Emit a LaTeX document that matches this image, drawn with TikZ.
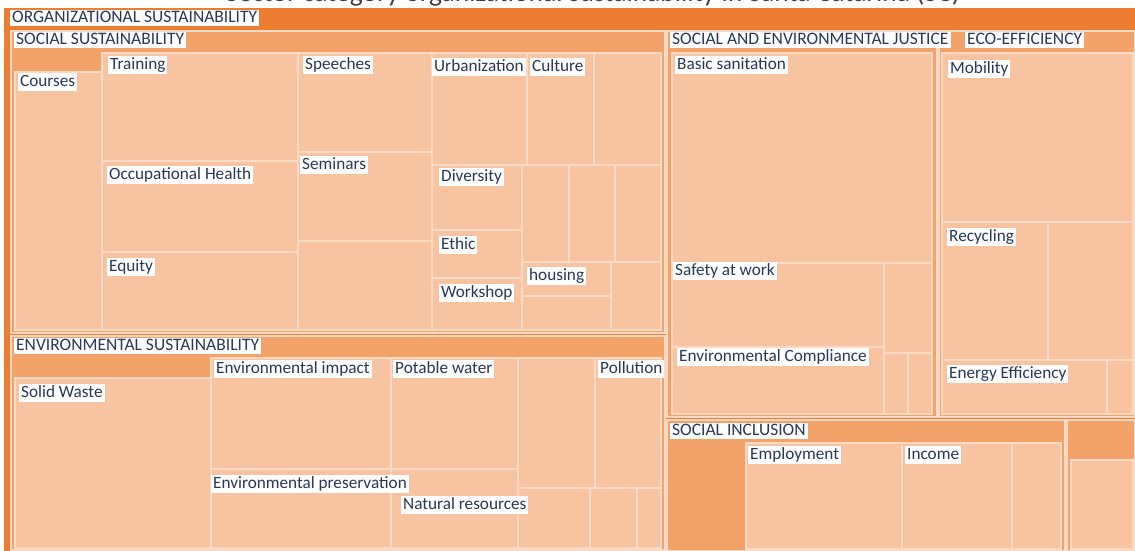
\documentclass[tikz,border=0pt]{standalone}
\usepackage{fontspec}
\setmainfont{Carlito}
\definecolor{dark}{HTML}{ED7D31}
\definecolor{mid}{HTML}{F3A269}
\definecolor{peach}{HTML}{F7C3A0}
\definecolor{edge}{HTML}{FADAC4}
\definecolor{ink}{HTML}{27385A}
\begin{document}
\begin{tikzpicture}[x=1pt,y=-1pt,
    cell/.style={fill=peach,draw=edge,line width=1.4pt},
    group/.style={fill=mid,draw=edge,line width=1.4pt},
    tag/.style={
      fill=white,
      text=ink,
      anchor=north west,
      inner xsep=2pt,
      inner ysep=1pt,
      text height=12pt,
      text depth=3.5pt,
      font=\fontsize{17.2}{19}\selectfont
    },
    head/.style={tag,text height=11pt,text depth=3pt,font=\fontsize{17.5}{19}\selectfont}]
  \useasboundingbox[fill=white] (0,0) rectangle (1135,551);
  \node[anchor=base,text=black!75,font=\fontsize{27.5}{30}\selectfont] (title) at (593,2)
    {Sector category organizational sustainability in Santa Catarina (SC)};
  \fill[dark] (4,8) rectangle (1135,551);
  \foreach \a/\b/\c/\d in {11/31/665/333, 11/336/665/550, 667/31/937/417,
      939/31/1135/417, 667/420/1065/551, 1067/420/1135/551}
    \draw[group] (\a,\b) rectangle (\c,\d);
  \foreach \a/\b/\c/\d in {15/72/102/330, 102/53/298/161, 102/161/298/252,
      102/252/298/330, 298/53/432/152, 298/152/432/241, 298/241/432/330,
      432/53/527/165, 527/53/594/165, 594/53/661/165,
      432/165/522/230, 432/230/522/278, 432/278/522/330,
      522/165/569/262, 569/165/615/262, 615/165/661/262,
      522/262/611/296, 522/296/611/330, 611/262/661/330,
      15/378/211/548, 211/358/391/469, 391/358/518/469,
      211/469/391/548, 391/469/518/548, 518/358/595/488, 595/358/661/488,
      518/488/590/548, 590/488/637/548, 637/488/661/548,
      672/53/932/263, 672/263/884/347, 884/263/932/353, 672/347/884/414,
      884/353/908/414, 908/353/932/414,
      942/53/1133/222, 942/222/1048/360, 1048/222/1133/360,
      942/360/1107/414, 1107/360/1133/414,
      746/443/902/549, 902/443/1012/549, 1012/443/1061/549,
      1071/460/1133/549}
    \draw[cell] (\a,\b) rectangle (\c,\d);
  \node[head] (org) at (10,10) {ORGANIZATIONAL SUSTAINABILITY};
  \node[head] (social) at (14,32) {SOCIAL SUSTAINABILITY};
  \node[head] (environ) at (14,338) {ENVIRONMENTAL SUSTAINABILITY};
  \node[head] (justice) at (670,32) {SOCIAL AND ENVIRONMENTAL JUSTICE};
  \node[head] (eco) at (965,32) {ECO-EFFICIENCY};
  \node[head] (inclusion) at (670,423) {SOCIAL INCLUSION};
  \node[tag] (courses) at (18,73) {Courses};
  \node[tag] (training) at (108,56) {Training};
  \node[tag] (health) at (107,166) {Occupational Health};
  \node[tag] (equity) at (107,258) {Equity};
  \node[tag] (speeches) at (303,56) {Speeches};
  \node[tag] (seminars) at (300,156) {Seminars};
  \node[tag] (urban) at (432,58) {Urbanization};
  \node[tag] (culture) at (530,58) {Culture};
  \node[tag] (diversity) at (439,168) {Diversity};
  \node[tag] (ethic) at (439,236) {Ethic};
  \node[tag] (workshop) at (439,284) {Workshop};
  \node[tag] (housing) at (527,267) {housing};
  \node[tag] (waste) at (19,384) {Solid Waste};
  \node[tag] (impact) at (214,360) {Environmental impact};
  \node[tag] (water) at (393,360) {Potable water};
  \node[tag] (pollution) at (598,360) {Pollution};
  \node[tag] (preserv) at (211,475) {Environmental preservation};
  \node[tag] (natural) at (401,496) {Natural resources};
  \node[tag] (sanitation) at (675,56) {Basic sanitation};
  \node[tag] (safety) at (673,262) {Safety at work};
  \node[tag] (comply) at (677,348) {Environmental Compliance};
  \node[tag] (mobility) at (948,60) {Mobility};
  \node[tag] (recycle) at (947,228) {Recycling};
  \node[tag] (energy) at (947,365) {Energy Efficiency};
  \node[tag] (employ) at (748,446) {Employment};
  \node[tag] (income) at (905,446) {Income};
\end{tikzpicture}
\end{document}
